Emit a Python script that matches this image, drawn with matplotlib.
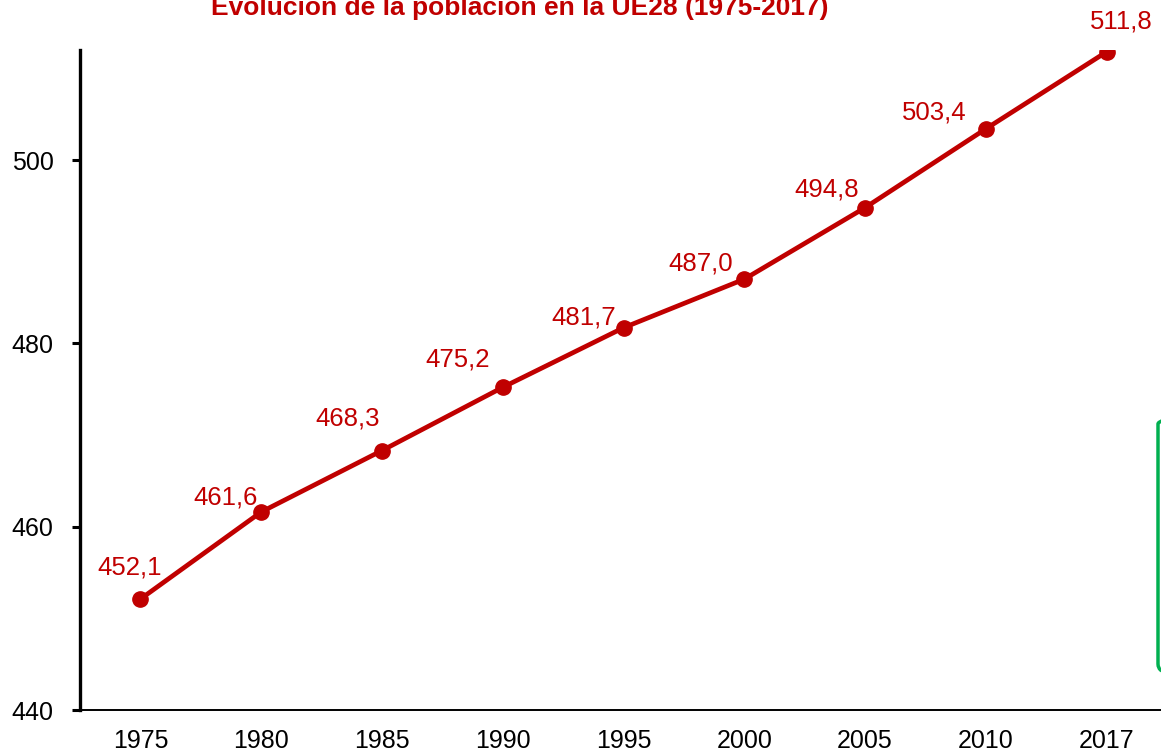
import matplotlib.pyplot as plt
from matplotlib.patches import FancyBboxPatch

years = ['1975', '1980', '1985', '1990', '1995', '2000', '2005', '2010', '2017']
poblacion = [452.1, 461.6, 468.3, 475.2, 481.7, 487.0, 494.8, 503.4, 511.8]
titulo = 'Evolución de la población en la UE28 (1975-2017)'

rojo = '#C00000'
plt.rcParams['font.family'] = ['Liberation Sans', 'DejaVu Sans']

fig = plt.figure(figsize=(11.61, 7.56), dpi=100)
# el eje de categorías sigue un poco más allá del borde derecho
ax = fig.add_axes([80 / 1161, 46 / 756, 1087 / 1161, 660 / 756])

x = list(range(len(years)))
ax.plot(x, poblacion, color=rojo, lw=3.4, marker='o', ms=11, zorder=3)

# desplazamientos de las etiquetas (en píxeles)
offs = [(-11, 32), (-36, 15), (-34, 32), (-45, 28), (-40, 10),
        (-44, 16), (-38, 18), (-52, 16), (15, 30)]
for xi, v, (dx, dy) in zip(x, poblacion, offs):
    ax.annotate(f'{v:.1f}'.replace('.', ','), (xi, v), xytext=(dx * 0.72, dy * 0.72),
                textcoords='offset points', ha='center', va='center',
                color=rojo, fontsize=18.5)

ax.set_xlim(-0.5, len(years) - 0.5)
ax.set_ylim(440, 512)
ax.set_yticks([440, 460, 480, 500])
ax.set_xticks(x)
ax.set_xticklabels(years)
ax.tick_params(axis='x', length=0, labelsize=18, pad=14)
ax.tick_params(axis='y', length=6, width=2.2, labelsize=18, pad=13)

for s in ['top', 'right']:
    ax.spines[s].set_visible(False)
ax.spines['left'].set_linewidth(2.4)
ax.spines['bottom'].set_linewidth(1.4)

fig.text(520 / 1161, 1 - 15 / 756, titulo, ha='center', va='baseline',
         color=rojo, fontsize=19, fontweight='bold')

# recuadro verde que asoma por la derecha
caja = FancyBboxPatch((1158 / 1161, 83 / 756), 0.1, 258 / 756,
                      boxstyle='round,pad=0,rounding_size=0.012',
                      transform=fig.transFigure, fill=False,
                      edgecolor='#00B050', lw=2.5, clip_on=False)
fig.patches.append(caja)

fig.savefig('out.png', dpi=100)
